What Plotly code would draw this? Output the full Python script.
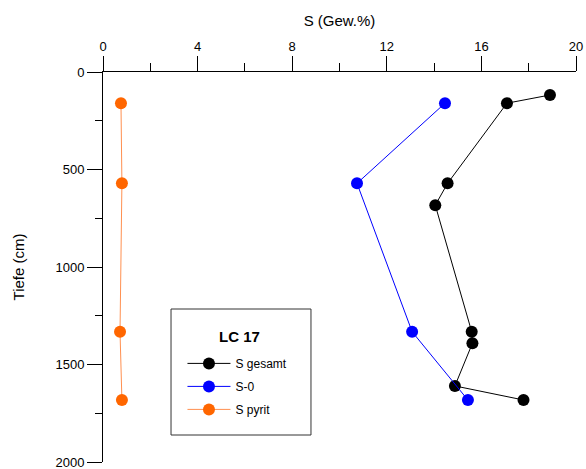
import plotly.graph_objects as go

depth_gesamt = [118, 160, 571, 683, 1332, 1391, 1610, 1682]
s_gesamt = [18.9, 17.08, 14.57, 14.05, 15.59, 15.62, 14.88, 17.78]
depth_s0 = [160, 571, 1332, 1682]
s_0 = [14.46, 10.74, 13.07, 15.43]
depth_pyrit = [160, 571, 1332, 1682]
s_pyrit = [0.76, 0.8, 0.72, 0.8]

x_ticks = [0, 4, 8, 12, 16, 20]
y_ticks = [0, 500, 1000, 1500, 2000]

FONT = "Liberation Sans, Arial, sans-serif"

fig = go.Figure()
fig.add_trace(go.Scatter(x=s_gesamt, y=depth_gesamt, mode="lines+markers", name="S gesamt",
                         legendgroup="a",
                         line=dict(color="black", width=1), marker=dict(color="black", size=12)))
fig.add_trace(go.Scatter(x=s_0, y=depth_s0, mode="lines+markers", name="S-0",
                         legendgroup="b",
                         line=dict(color="#0000FF", width=1), marker=dict(color="#0000FF", size=12)))
fig.add_trace(go.Scatter(x=s_pyrit, y=depth_pyrit, mode="lines+markers", name="S pyrit",
                         legendgroup="c",
                         line=dict(color="#FF9050", width=1), marker=dict(color="#FF6600", size=12)))

# legend frame and title
fig.add_shape(type="rect", xref="paper", yref="paper",
              x0=0.1438, x1=0.4397, y0=0.0692, y1=0.3923,
              line=dict(color="#333333", width=1), fillcolor="white", layer="below")
fig.add_annotation(text="<b>LC 17</b>", xref="paper", yref="paper", x=0.2896, y=0.321,
                   showarrow=False, font=dict(size=15), xanchor="center", yanchor="middle")

fig.update_layout(
    width=586, height=469,
    margin=dict(l=103, r=10, t=72, b=7),
    paper_bgcolor="white", plot_bgcolor="white",
    font=dict(family=FONT, size=13, color="black"),
    showlegend=True,
    legend=dict(
        x=0.168, y=0.29, xanchor="left", yanchor="top",
        borderwidth=0, bgcolor="rgba(0,0,0,0)",
        font=dict(size=12), itemsizing="trace", itemwidth=43,
        tracegroupgap=4,
    ),
    xaxis=dict(
        side="top", range=[0, 20], tickvals=x_ticks, ticktext=[str(v) for v in x_ticks],
        showgrid=False, zeroline=False, showline=True, linecolor="black", linewidth=1,
        ticks="outside", ticklen=15, tickcolor="black", tickwidth=1, automargin=False,
        ticklabeloverflow="allow",
        minor=dict(dtick=2, ticks="outside", ticklen=8, tickcolor="black", showgrid=False),
        title=dict(text="S (Gew.%)", font=dict(size=15), standoff=8),
        tickfont=dict(size=13),
    ),
    yaxis=dict(
        range=[2000, 0], tickvals=y_ticks, ticktext=[str(v) for v in y_ticks],
        showgrid=False, zeroline=False, showline=True, linecolor="black", linewidth=1,
        ticks="outside", ticklen=15, tickcolor="black", tickwidth=1, automargin=False,
        ticklabeloverflow="allow",
        minor=dict(dtick=250, ticks="outside", ticklen=7, tickcolor="black", showgrid=False),
        title=dict(text="Tiefe (cm)", font=dict(size=15), standoff=27),
        tickfont=dict(size=13),
    ),
)

fig.write_html("out.html", config={"displayModeBar": False},
               post_script="document.body.style.margin='0';")
